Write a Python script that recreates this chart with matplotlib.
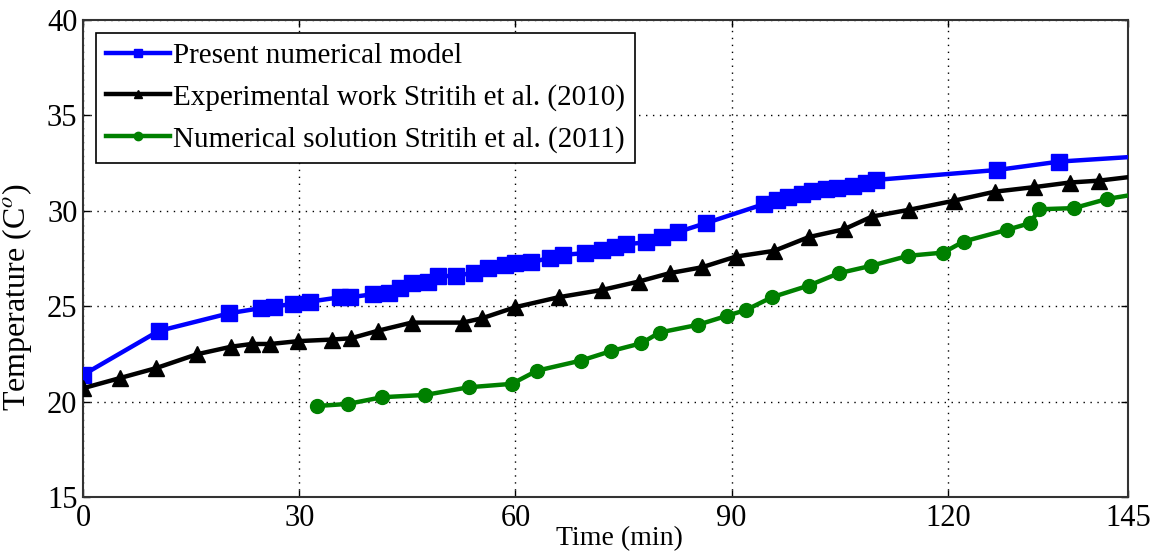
import matplotlib
matplotlib.use("Agg")
import matplotlib.pyplot as plt

# Present numerical model
model_time = [0, 10.5, 20.3, 24.7, 26.5, 29.1, 31.5, 35.7, 37.1, 40.3, 42.5, 44.0,
              45.6, 47.9, 49.3, 51.8, 54.2, 56.2, 58.5, 60.0, 62.1, 64.8, 66.6,
              69.6, 72.0, 73.8, 75.3, 78.1, 80.4, 82.5, 86.4, 94.5, 96.3, 97.9,
              99.8, 101.2, 103.1, 104.6, 106.8, 108.6, 110.1, 126.9, 135.5, 145]
model_temp = [21.4, 23.7, 24.63, 24.9, 24.98, 25.12, 25.24, 25.47, 25.47, 25.63,
              25.71, 25.97, 26.2, 26.27, 26.57, 26.59, 26.76, 26.99, 27.16, 27.25,
              27.31, 27.52, 27.69, 27.78, 27.95, 28.12, 28.24, 28.35, 28.65, 28.88,
              29.35, 30.35, 30.57, 30.74, 30.87, 31.04, 31.15, 31.22, 31.32, 31.45,
              31.62, 32.14, 32.58, 32.81]

# Experimental work, Stritih et al. (2010)
exp_time = [0, 5.1, 10.1, 15.8, 20.6, 23.4, 26.0, 29.9, 34.5, 37.2, 41.0, 45.6,
            52.7, 55.4, 60.0, 66.0, 72.0, 77.1, 81.4, 85.9, 90.6, 95.9, 100.7,
            105.6, 109.5, 114.6, 120.9, 126.5, 132.0, 136.9, 141.0, 145]
exp_temp = [20.70, 21.23, 21.75, 22.48, 22.88, 23.02, 23.02, 23.17, 23.25, 23.32,
            23.72, 24.14, 24.14, 24.37, 24.95, 25.47, 25.85, 26.29, 26.73, 27.04,
            27.60, 27.90, 28.62, 29.03, 29.70, 30.05, 30.53, 31.0, 31.24, 31.48,
            31.58, 31.76]

# Numerical solution, Stritih et al. (2011)
ref_time = [32.5, 36.8, 41.5, 47.5, 53.5, 59.5, 63.0, 69.1, 73.3, 77.5, 80.0,
            85.3, 89.3, 92.0, 95.6, 100.7, 104.9, 109.3, 114.5, 119.4, 122.2,
            128.2, 131.4, 132.7, 137.5, 142.1, 145]
ref_temp = [19.77, 19.88, 20.23, 20.35, 20.75, 20.93, 21.62, 22.15, 22.65, 23.06,
            23.62, 24.02, 24.49, 24.8, 25.47, 26.08, 26.73, 27.11, 27.64, 27.81,
            28.39, 29.0, 29.35, 30.08, 30.14, 30.62, 30.80]

x_ticks = [0, 30, 60, 90, 120, 145]
y_ticks = [15, 20, 25, 30, 35, 40]

plt.rcParams["font.family"] = ["Liberation Serif", "DejaVu Serif"]
plt.rcParams["mathtext.fontset"] = "stix"

fig = plt.figure(figsize=(11.58, 5.55), dpi=100)
ax = fig.add_axes([0.0717, 0.1045, 0.9023, 0.8595])

ax.plot(model_time, model_temp, color="#0000ff", lw=3.2, marker="s", ms=11,
        markevery=list(range(len(model_time) - 1)),
        label="Present numerical model", zorder=3)
ax.plot(exp_time, exp_temp, color="black", lw=3.2, marker="^", ms=11,
        markevery=list(range(len(exp_time) - 1)),
        label="Experimental work Stritih et al. (2010)", zorder=3)
ax.plot(ref_time, ref_temp, color="#008000", lw=3.2, marker="o", ms=10,
        markevery=list(range(len(ref_time) - 1)),
        label="Numerical solution Stritih et al. (2011)", zorder=3)

ax.set_xlim(0, 145)
ax.set_ylim(15, 40)
ax.set_xticks(x_ticks)
ax.set_yticks(y_ticks)
ax.tick_params(direction="in", length=5, width=1, top=True, right=True,
               labelsize=22)
ax.tick_params(axis="y", pad=4)
ax.tick_params(axis="x", pad=5)
ax.grid(True, color="black", linestyle=(0, (1, 4)), linewidth=1.0)
for s in ax.spines.values():
    s.set_linewidth(1.5)
    s.set_color("#333333")

ax.set_xlabel("Time (min)", fontsize=20)
ax.xaxis.set_label_coords(0.513, -0.06)
ax.set_ylabel("Temperature (C$^{o}$)", fontsize=23)
ax.yaxis.set_label_coords(-0.047, 0.42)

leg = ax.legend(loc="upper left", fontsize=21, handlelength=2.2,
                handletextpad=0.1, borderpad=0.35, labelspacing=0.5,
                fancybox=False, framealpha=1, edgecolor="black",
                bbox_to_anchor=(0.012, 0.973), borderaxespad=0)
leg.get_frame().set_linewidth(1.2)
for h in leg.legend_handles:
    h.set_markersize(6)

fig.savefig("out.png", dpi=100)
